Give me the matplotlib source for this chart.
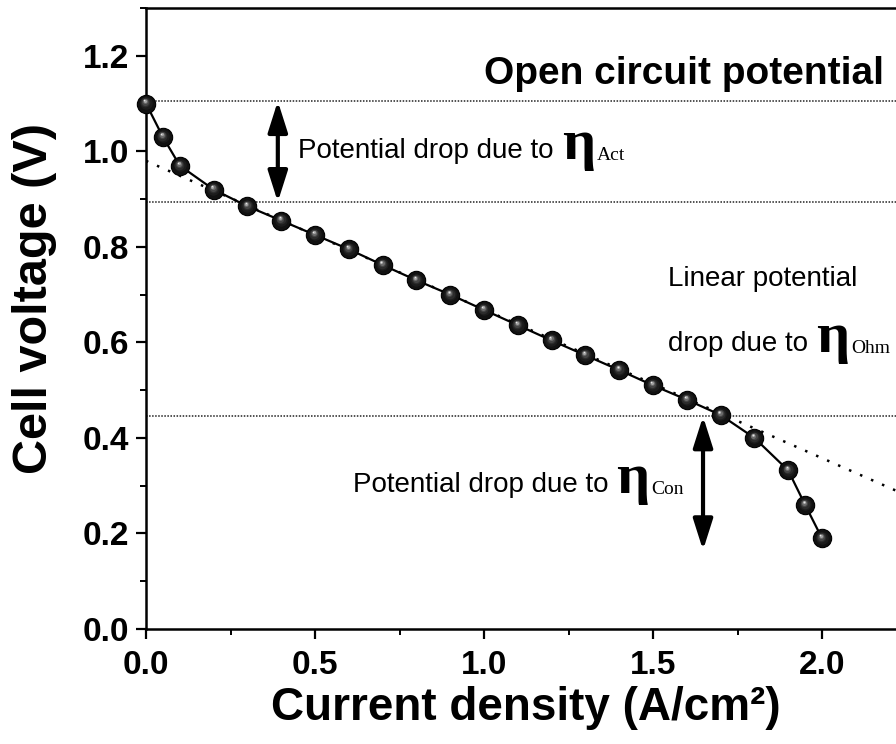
import matplotlib
matplotlib.use("Agg")
import matplotlib.pyplot as plt
import matplotlib.transforms as mtransforms
from matplotlib.ticker import MultipleLocator

# ---- data ----
current = [0.0, 0.05, 0.1, 0.2, 0.3, 0.4, 0.5, 0.6, 0.7, 0.8, 0.9, 1.0,
           1.1, 1.2, 1.3, 1.4, 1.5, 1.6, 1.7, 1.8, 1.9, 1.95, 2.0]
voltage = [1.10, 1.03, 0.97, 0.92, 0.885, 0.855, 0.825, 0.795, 0.762, 0.730,
           0.700, 0.668, 0.636, 0.604, 0.573, 0.542, 0.510, 0.480, 0.448,
           0.400, 0.332, 0.260, 0.190]
fit_x = [0.0, 2.25]
fit_y = [0.98, 0.28]
ref_levels = [1.105, 0.894, 0.445]
act_arrow = (0.39, 1.105, 0.894)
con_arrow = (1.648, 0.445, 0.165)
x_ticks = [0.0, 0.5, 1.0, 1.5, 2.0]
y_ticks = [0.0, 0.2, 0.4, 0.6, 0.8, 1.0, 1.2]

SANS = "Liberation Sans"
SERIF = "Liberation Serif"

fig = plt.figure(figsize=(8.96, 7.44), dpi=100)
W, H = 896, 744
x0px, y0px, ytop = 146, 629, 8
pxu = 338.0
ax = fig.add_axes([x0px / W, (H - y0px) / H, 2.25 * pxu / W, (y0px - ytop) / H])
ax.set_xlim(0, 2.25)
ax.set_ylim(0, 1.3)

# reference lines
for lv in ref_levels:
    ax.plot([0, 2.25], [lv, lv], color="#222222", lw=1.1,
            linestyle=(0, (1, 1.0)), zorder=1)
ax.plot(fit_x, fit_y, color="black", lw=1.8, linestyle=(0, (1, 3.8)), zorder=1)

# curve
ax.plot(current, voltage, color="black", lw=1.6, zorder=3)
ax.plot(current, voltage, linestyle="none", marker="o", ms=13.2,
        mfc="#111111", mec="#000000", mew=0.8, zorder=4, clip_on=False)
# sphere shading
layers = [(9.0, "#1c1c1c"), (7.0, "#2c2c2c"), (5.2, "#454545"),
          (3.6, "#6c6c6c"), (2.2, "#a4a4a4"), (1.1, "#e6e6e6")]
for i, (s, c) in enumerate(layers):
    off = 0.6 + i * 0.5
    tr = mtransforms.offset_copy(ax.transData, fig=fig, x=-off * 0.5, y=off,
                                 units="dots")
    ax.plot(current, voltage, linestyle="none", marker="o", ms=s, mfc=c,
            mec="none", transform=tr, zorder=5 + i, clip_on=False)

# arrows
for (xa, ya, yb) in [act_arrow, con_arrow]:
    ax.annotate("", xy=(xa, yb), xytext=(xa, ya),
                arrowprops=dict(arrowstyle="<|-|>,head_length=0.85,head_width=0.27",
                                mutation_scale=22, lw=3.0, color="black",
                                shrinkA=0, shrinkB=0), zorder=6)

# ticks and spines
ax.xaxis.set_minor_locator(MultipleLocator(0.25))
ax.yaxis.set_minor_locator(MultipleLocator(0.1))
ax.set_xticks(x_ticks)
ax.set_yticks(y_ticks)
ax.set_xticklabels([f"{v:.1f}" for v in x_ticks])
ax.set_yticklabels([f"{v:.1f}" for v in y_ticks])
ax.tick_params(which="major", direction="out", length=7, width=1.6,
               labelsize=24, pad=5)
ax.tick_params(which="minor", direction="out", length=4.5, width=1.4)
ax.tick_params(axis="x", which="major", pad=8)
for lab in ax.get_xticklabels() + ax.get_yticklabels():
    lab.set_fontweight("bold")
    lab.set_family(SANS)
for sp in ax.spines.values():
    sp.set_linewidth(1.8)
ax.spines["right"].set_visible(False)

ax.set_xlabel("Current density (A/cm²)", fontsize=33, fontweight="bold",
              family=SANS, labelpad=4)
ax.set_ylabel("Cell voltage (V)", fontsize=35, fontweight="bold",
              family=SANS)
ax.yaxis.set_label_coords(-0.117, 0.532)

ax.text(1.0, 1.14, "Open circuit potential", fontsize=28, fontweight="bold",
        family=SANS, va="baseline", ha="left")
ax.text(1.544, 0.718, "Linear potential", fontsize=20, family=SANS,
        va="baseline")

fig.canvas.draw()
renderer = fig.canvas.get_renderer()


def eta_label(x, y, text, sub):
    t = ax.text(x, y, text, fontsize=20, family=SANS, va="baseline")
    bb = t.get_window_extent(renderer)
    e = ax.annotate("η", xy=(x, y), xycoords="data",
                    xytext=(bb.width + 8, -1), textcoords="offset pixels",
                    fontsize=42, family=SERIF, fontweight="bold", va="baseline")
    eb = e.get_window_extent(renderer)
    ax.annotate(sub, xy=(x, y), xycoords="data",
                xytext=(bb.width + 8 + eb.width + 2, -2),
                textcoords="offset pixels",
                fontsize=14, family=SERIF, va="baseline")


eta_label(0.45, 0.987, "Potential drop due to", "Act")
eta_label(1.544, 0.582, "drop due to", "Ohm")
eta_label(0.612, 0.286, "Potential drop due to", "Con")

fig.savefig("out.png", dpi=100)
